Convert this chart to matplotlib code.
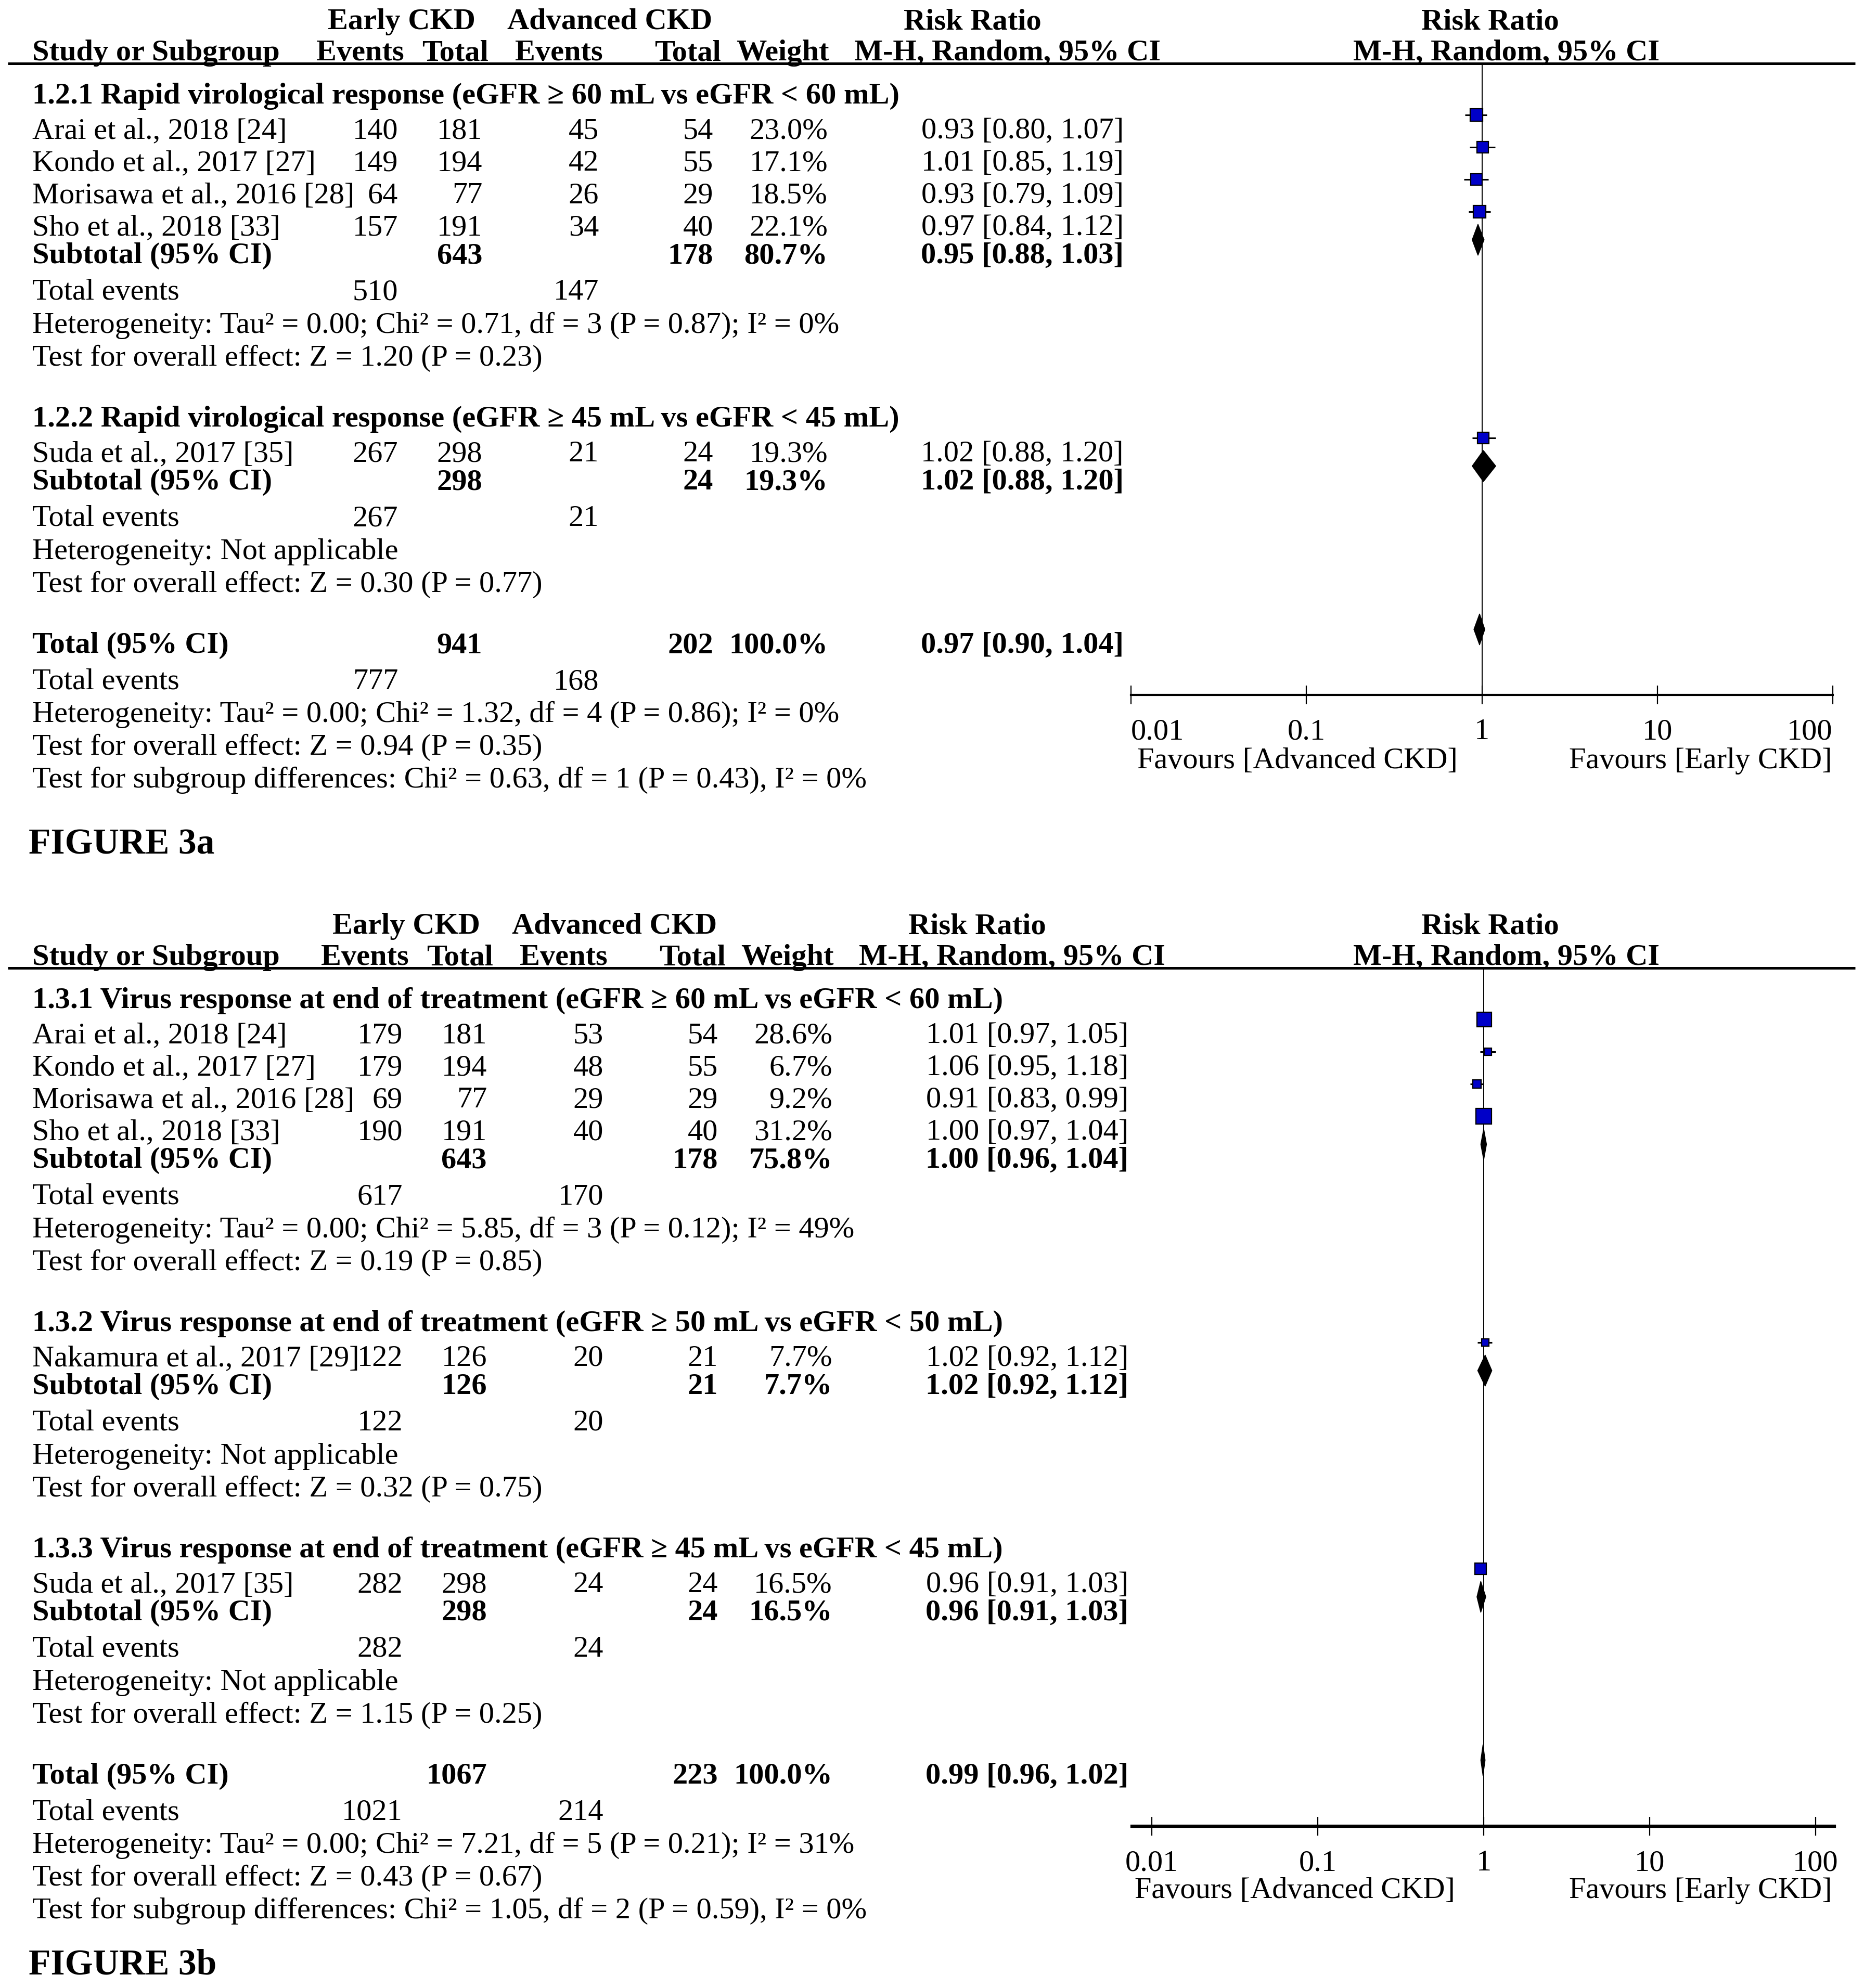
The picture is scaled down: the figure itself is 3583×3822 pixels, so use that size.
import matplotlib
matplotlib.use("Agg")
import matplotlib.pyplot as plt
from matplotlib.patches import Polygon
from matplotlib.ticker import NullLocator
import numpy as np

W, H, DPI = 3583, 3823, 100
FS = 42
plt.rcParams["font.family"] = ["Liberation Serif", "DejaVu Serif"]

# ---------------- FIGURE 3a data ----------------
a_group_titles = [
    "1.2.1 Rapid virological response (eGFR \u2265 60 mL vs eGFR < 60 mL)",
    "1.2.2 Rapid virological response (eGFR \u2265 45 mL vs eGFR < 45 mL)",
]
a_study = ["Arai et al., 2018 [24]", "Kondo et al., 2017 [27]",
           "Morisawa et al., 2016 [28]", "Sho et al., 2018 [33]",
           "Suda et al., 2017 [35]"]
a_study_group = [0, 0, 0, 0, 1]
a_ev_early = [140, 149, 64, 157, 267]
a_n_early = [181, 194, 77, 191, 298]
a_ev_adv = [45, 42, 26, 34, 21]
a_n_adv = [54, 55, 29, 40, 24]
a_weight = [23.0, 17.1, 18.5, 22.1, 19.3]
a_rr = [0.93, 1.01, 0.93, 0.97, 1.02]
a_lo = [0.80, 0.85, 0.79, 0.84, 0.88]
a_hi = [1.07, 1.19, 1.09, 1.12, 1.20]
a_sub_n_early = [643, 298]
a_sub_n_adv = [178, 24]
a_sub_weight = [80.7, 19.3]
a_sub_rr = [0.95, 1.02]
a_sub_lo = [0.88, 0.88]
a_sub_hi = [1.03, 1.20]
a_sub_ev_early = [510, 267]
a_sub_ev_adv = [147, 21]
a_sub_het = ["Heterogeneity: Tau\u00b2 = 0.00; Chi\u00b2 = 0.71, df = 3 (P = 0.87); I\u00b2 = 0%",
             "Heterogeneity: Not applicable"]
a_sub_effect = ["Test for overall effect: Z = 1.20 (P = 0.23)",
                "Test for overall effect: Z = 0.30 (P = 0.77)"]
a_total = [941, 202, 100.0, 0.97, 0.90, 1.04]
a_total_events = [777, 168]
a_total_text = ["Heterogeneity: Tau\u00b2 = 0.00; Chi\u00b2 = 1.32, df = 4 (P = 0.86); I\u00b2 = 0%",
                "Test for overall effect: Z = 0.94 (P = 0.35)",
                "Test for subgroup differences: Chi\u00b2 = 0.63, df = 1 (P = 0.43), I\u00b2 = 0%"]

# ---------------- FIGURE 3b data ----------------
b_group_titles = [
    "1.3.1 Virus response at end of treatment (eGFR \u2265 60 mL vs eGFR < 60 mL)",
    "1.3.2 Virus response at end of treatment (eGFR \u2265 50 mL vs eGFR < 50 mL)",
    "1.3.3 Virus response at end of treatment (eGFR \u2265 45 mL vs eGFR < 45 mL)",
]
b_study = ["Arai et al., 2018 [24]", "Kondo et al., 2017 [27]",
           "Morisawa et al., 2016 [28]", "Sho et al., 2018 [33]",
           "Nakamura et al., 2017 [29]", "Suda et al., 2017 [35]"]
b_study_group = [0, 0, 0, 0, 1, 2]
b_ev_early = [179, 179, 69, 190, 122, 282]
b_n_early = [181, 194, 77, 191, 126, 298]
b_ev_adv = [53, 48, 29, 40, 20, 24]
b_n_adv = [54, 55, 29, 40, 21, 24]
b_weight = [28.6, 6.7, 9.2, 31.2, 7.7, 16.5]
b_rr = [1.01, 1.06, 0.91, 1.00, 1.02, 0.96]
b_lo = [0.97, 0.95, 0.83, 0.97, 0.92, 0.91]
b_hi = [1.05, 1.18, 0.99, 1.04, 1.12, 1.03]
b_sub_n_early = [643, 126, 298]
b_sub_n_adv = [178, 21, 24]
b_sub_weight = [75.8, 7.7, 16.5]
b_sub_rr = [1.00, 1.02, 0.96]
b_sub_lo = [0.96, 0.92, 0.91]
b_sub_hi = [1.04, 1.12, 1.03]
b_sub_ev_early = [617, 122, 282]
b_sub_ev_adv = [170, 20, 24]
b_sub_het = ["Heterogeneity: Tau\u00b2 = 0.00; Chi\u00b2 = 5.85, df = 3 (P = 0.12); I\u00b2 = 49%",
             "Heterogeneity: Not applicable",
             "Heterogeneity: Not applicable"]
b_sub_effect = ["Test for overall effect: Z = 0.19 (P = 0.85)",
                "Test for overall effect: Z = 0.32 (P = 0.75)",
                "Test for overall effect: Z = 1.15 (P = 0.25)"]
b_total = [1067, 223, 100.0, 0.99, 0.96, 1.02]
b_total_events = [1021, 214]
b_total_text = ["Heterogeneity: Tau\u00b2 = 0.00; Chi\u00b2 = 7.21, df = 5 (P = 0.21); I\u00b2 = 31%",
                "Test for overall effect: Z = 0.43 (P = 0.67)",
                "Test for subgroup differences: Chi\u00b2 = 1.05, df = 2 (P = 0.59), I\u00b2 = 0%"]

tick_vals = [0.01, 0.1, 1, 10, 100]
tick_text = ["0.01", "0.1", "1", "10", "100"]
favours = ["Favours [Advanced CKD]", "Favours [Early CKD]"]

BLUE = "#0000c8"
BASE = 19      # cap centre -> baseline, px
MARK = -25     # marks sit a little above the text rows


def rr_str(r, lo, hi):
    return f"{r:.2f} [{lo:.2f}, {hi:.2f}]"


def draw_panel(fig, cv, p, L):
    s = L["shift"]
    cols = [765 + s, 927 + s, 1151 + s, 1371 + s, 1591 + s, 2160 + s]

    def txt(x, y, t, ha="left", bold=False, size=FS):
        cv.text(x, y + BASE, t, ha=ha, va="baseline", fontsize=size,
                fontweight="bold" if bold else "normal")

    def nums(y, vals, bold=False):
        for x, v in zip(cols, vals):
            if v is not None:
                txt(x, y, v, ha="right", bold=bold)

    # header
    hy = L["hline"]
    txt(630 + s, hy - 86, "Early CKD", bold=True)
    txt(975 + s, hy - 86, "Advanced CKD", bold=True)
    txt(1737 + s, hy - 86, "Risk Ratio", bold=True)
    txt(2732, hy - 86, "Risk Ratio", bold=True)
    txt(62, hy - 26, "Study or Subgroup", bold=True)
    for x, t in zip([608, 811, 990, 1258, 1415, 1642],
                    ["Events", "Total", "Events", "Total", "Weight",
                     "M-H, Random, 95% CI"]):
        txt(x + s, hy - 26, t, bold=True)
    txt(2601, hy - 26, "M-H, Random, 95% CI", bold=True)
    cv.plot([15, 3566], [hy, hy], color="black", lw=3.6, solid_capstyle="butt")

    # forest axes, y in the same pixel rows as the table
    ay = L["axis"]
    t0, t1, e0, e1 = L["ticks"]
    dec = (t1 - t0) / 4.0
    fx = fig.add_axes([e0 / W, 1 - ay / H, (e1 - e0) / W, (ay - hy) / H])
    fx.patch.set_alpha(0)
    fx.set_xscale("log")
    fx.set_xlim(10 ** (-2 + (e0 - t0) / dec), 10 ** (2 + (e1 - t1) / dec))
    fx.set_ylim(ay, hy)
    for side in ["top", "left", "right"]:
        fx.spines[side].set_visible(False)
    fx.spines["bottom"].set_linewidth(L["axlw"])
    fx.set_yticks([])
    fx.set_xticks(tick_vals)
    fx.set_xticklabels(tick_text)
    fx.xaxis.set_minor_locator(NullLocator())
    fx.tick_params(axis="x", direction="inout", length=26, width=1.6,
                   labelsize=FS, pad=19)
    if L["edge_labels"]:
        labs = fx.get_xticklabels()
        labs[0].set_ha("left")
        labs[-1].set_ha("right")
    fx.axvline(1, color="black", lw=1.4, zorder=1)

    def diamond(y, r, lo, hi):
        ym = y + MARK
        fx.add_patch(Polygon([(lo, ym), (r, ym - 30), (hi, ym), (r, ym + 30)],
                             closed=True, facecolor="black",
                             edgecolor="black", lw=1, zorder=3))

    y = hy + 57
    for g, title in enumerate(p["groups"]):
        txt(62, y, title, bold=True)
        y += 67
        idx = [i for i, gg in enumerate(p["study_group"]) if gg == g]
        for k, i in enumerate(idx):
            txt(62, y, p["study"][i])
            nums(y, [str(p["ev_early"][i]), str(p["n_early"][i]),
                     str(p["ev_adv"][i]), str(p["n_adv"][i]),
                     f"{p['weight'][i]:.1f}%",
                     rr_str(p["rr"][i], p["lo"][i], p["hi"][i])])
            fx.hlines(y + MARK, p["lo"][i], p["hi"][i], color="black",
                      lw=2.2, zorder=2)
            side = 5.2 * np.sqrt(p["weight"][i]) * 0.72
            fx.plot([p["rr"][i]], [y + MARK], marker="s", ms=side,
                    mfc=BLUE, mec="black", mew=1.6, zorder=4)
            y += 62 if k < len(idx) - 1 else 54
        txt(62, y, "Subtotal (95% CI)", bold=True)
        nums(y, [None, str(p["sub_n_early"][g]), None, str(p["sub_n_adv"][g]),
                 f"{p['sub_weight'][g]:.1f}%",
                 rr_str(p["sub_rr"][g], p["sub_lo"][g], p["sub_hi"][g])],
             bold=True)
        diamond(y, p["sub_rr"][g], p["sub_lo"][g], p["sub_hi"][g])
        y += 70
        txt(62, y, "Total events")
        nums(y, [str(p["sub_ev_early"][g]), None, str(p["sub_ev_adv"][g]),
                 None, None, None])
        y += 64
        txt(62, y, p["sub_het"][g])
        y += 63
        txt(62, y, p["sub_effect"][g])
        y += 117

    tot = p["total"]
    txt(62, y, "Total (95% CI)", bold=True)
    nums(y, [None, str(tot[0]), None, str(tot[1]), f"{tot[2]:.1f}%",
             rr_str(tot[3], tot[4], tot[5])], bold=True)
    diamond(y, tot[3], tot[4], tot[5])
    y += 70
    txt(62, y, "Total events")
    nums(y, [str(p["total_events"][0]), None, str(p["total_events"][1]),
             None, None, None])
    for t in p["total_text"]:
        y += 63
        txt(62, y, t)

    fy = L["fav"]
    txt(L["fav_x"][0], fy, favours[0], ha="left")
    txt(L["fav_x"][1], fy, favours[1], ha="right")
    txt(55, L["label_y"], L["label"], bold=True, size=50)


panel_a = dict(groups=a_group_titles, study=a_study, study_group=a_study_group,
               ev_early=a_ev_early, n_early=a_n_early, ev_adv=a_ev_adv,
               n_adv=a_n_adv, weight=a_weight, rr=a_rr, lo=a_lo, hi=a_hi,
               sub_n_early=a_sub_n_early, sub_n_adv=a_sub_n_adv,
               sub_weight=a_sub_weight, sub_rr=a_sub_rr, sub_lo=a_sub_lo,
               sub_hi=a_sub_hi, sub_ev_early=a_sub_ev_early,
               sub_ev_adv=a_sub_ev_adv, sub_het=a_sub_het,
               sub_effect=a_sub_effect, total=a_total,
               total_events=a_total_events, total_text=a_total_text)
panel_b = dict(groups=b_group_titles, study=b_study, study_group=b_study_group,
               ev_early=b_ev_early, n_early=b_n_early, ev_adv=b_ev_adv,
               n_adv=b_n_adv, weight=b_weight, rr=b_rr, lo=b_lo, hi=b_hi,
               sub_n_early=b_sub_n_early, sub_n_adv=b_sub_n_adv,
               sub_weight=b_sub_weight, sub_rr=b_sub_rr, sub_lo=b_sub_lo,
               sub_hi=b_sub_hi, sub_ev_early=b_sub_ev_early,
               sub_ev_adv=b_sub_ev_adv, sub_het=b_sub_het,
               sub_effect=b_sub_effect, total=b_total,
               total_events=b_total_events, total_text=b_total_text)

layout_a = dict(shift=0, hline=123, axis=1337, ticks=(2174, 3523, 2174, 3523),
                axlw=3.0, edge_labels=True, fav=1458, fav_x=(2186, 3521),
                label="FIGURE 3a", label_y=1623)
layout_b = dict(shift=9, hline=1862, axis=3512, ticks=(2214, 3490, 2176, 3526),
                axlw=4.5, edge_labels=False, fav=3630, fav_x=(2181, 3521),
                label="FIGURE 3b", label_y=3777)

fig = plt.figure(figsize=(W / DPI, H / DPI), dpi=DPI)
cv = fig.add_axes([0, 0, 1, 1])
cv.set_xlim(0, W)
cv.set_ylim(H, 0)
cv.axis("off")

draw_panel(fig, cv, panel_a, layout_a)
draw_panel(fig, cv, panel_b, layout_b)

fig.savefig("out.png", dpi=DPI, facecolor="white")
